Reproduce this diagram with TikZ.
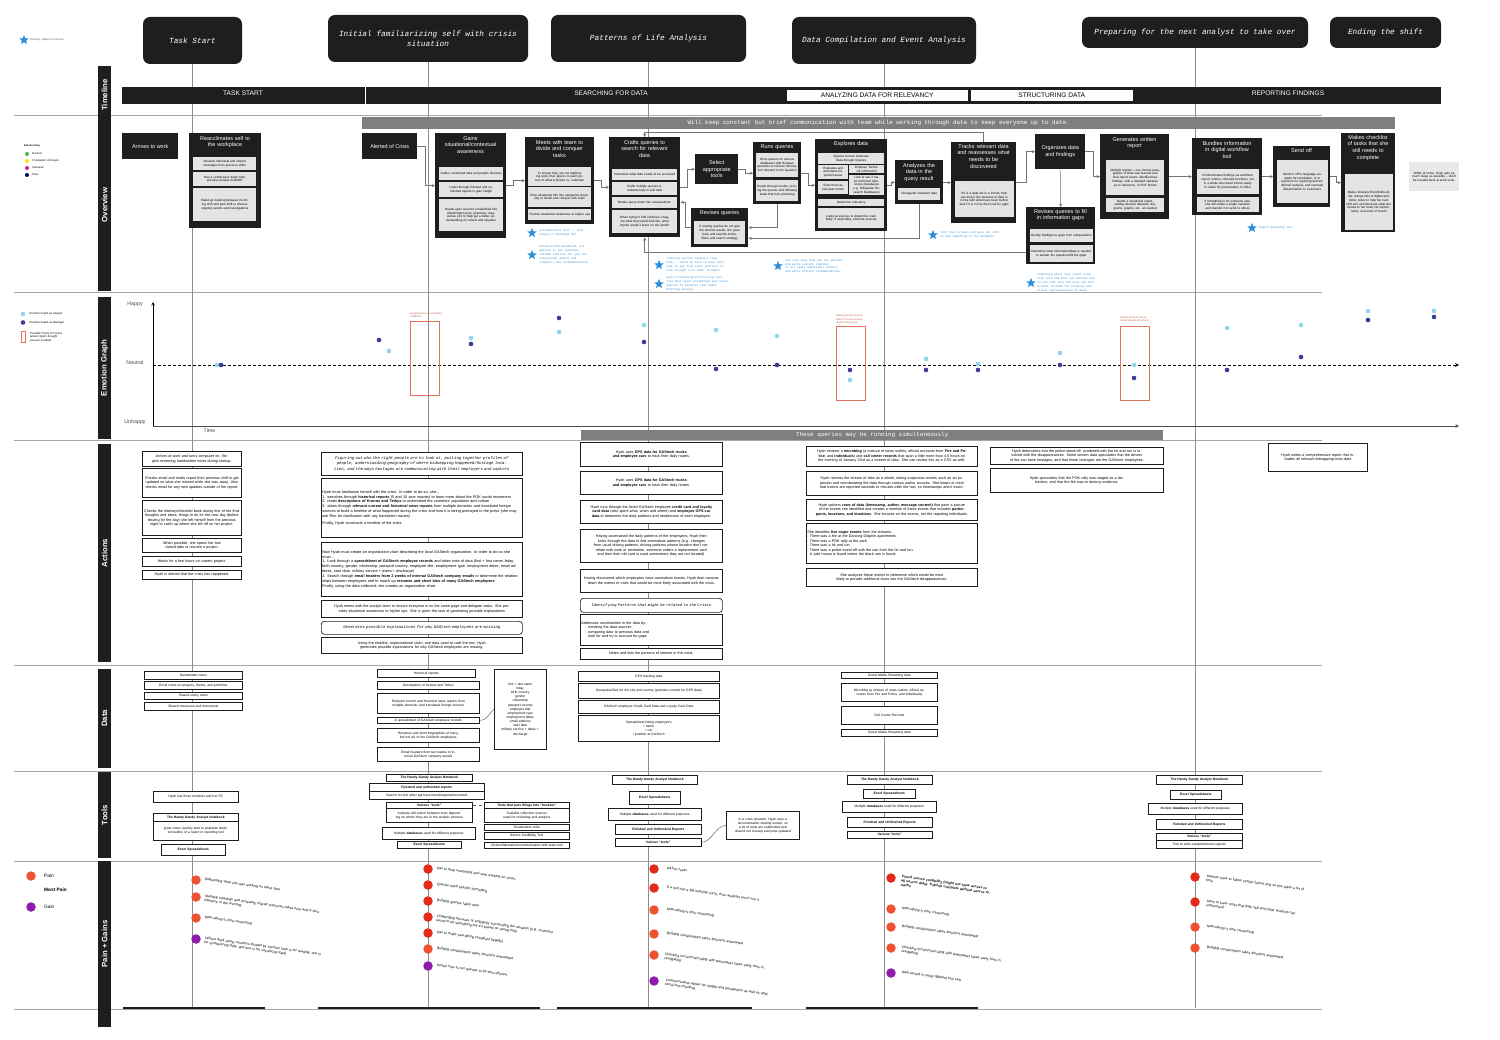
\documentclass[tikz,border=0pt]{standalone}
\usepackage{fontspec}
\setmainfont{Liberation Sans}
\newfontfamily\plexmono{Liberation Mono}
\usetikzlibrary{shapes.geometric,positioning}

\definecolor{ink}{HTML}{1E1E1E}
\definecolor{subgrey}{HTML}{E4E4E4}
\definecolor{barcolor}{HTML}{7F7F7F}
\definecolor{analyst}{HTML}{8ED6EA}
\definecolor{manager}{HTML}{3A3A98}
\definecolor{friction}{HTML}{E0735C}
\definecolor{oppblue}{HTML}{2B8EDB}
\definecolor{painred}{HTML}{E2291A}
\definecolor{painlight}{HTML}{EE5233}
\definecolor{gainpurple}{HTML}{8E1AAE}

\tikzset{
  phase/.style={fill=ink, rounded corners=7pt, text=white, align=center,
    font=\plexmono\itshape\fontsize{7.8}{10}\selectfont, inner sep=1pt},
  rowlabel/.style={fill=ink, text=white, rotate=90, inner sep=0pt,
    font=\bfseries\fontsize{7.8}{9}\selectfont},
  stagelabel/.style={inner sep=0pt, font=\fontsize{6.6}{7}\selectfont},
  obox/.style={fill=ink, text=white, align=center, inner sep=1pt, anchor=north west,
    font=\fontsize{5.5}{6.8}\selectfont},
  otitle/.style={text=white, align=center, inner sep=0pt, anchor=north,
    font=\fontsize{5.5}{6.8}\selectfont},
  osub/.style={fill=subgrey, align=center, inner sep=0.6pt, anchor=north west,
    font=\fontsize{3.1}{3.8}\selectfont},
  abox/.style={draw=ink, line width=0.7pt, fill=white, align=center,
    inner sep=1pt, anchor=north west, font=\fontsize{3.7}{4.5}\selectfont},
  dbox/.style={abox, line width=0.6pt, font=\fontsize{3.3}{4}\selectfont},
  monobox/.style={abox, font=\plexmono\itshape\fontsize{4}{5.2}\selectfont},
  flow/.style={->, draw=black!55, line width=0.5pt},
  lane/.style={draw=black!45, line width=0.6pt},
  sep/.style={draw=black!35, line width=0.5pt},
  opp/.style={star, star points=5, star point ratio=2.3, fill=oppblue,
    inner sep=0pt, minimum size=10pt},
  opptext/.style={text=oppblue, anchor=west, align=left, inner sep=0pt,
    font=\plexmono\fontsize{2.8}{3.9}\selectfont},
  ana/.style={circle, fill=analyst, inner sep=0pt, minimum size=4.6pt},
  man/.style={circle, fill=manager, inner sep=0pt, minimum size=4.6pt},
  fric/.style={draw=friction, line width=0.7pt, anchor=north west, inner sep=0pt},
  frictext/.style={text=friction!85!black, anchor=south west, align=left, inner sep=0pt,
    font=\fontsize{2.6}{3.2}\selectfont},
  pain/.style={circle, fill=painlight, inner sep=0pt, minimum size=9.5pt},
  mostpain/.style={pain, fill=painred},
  gain/.style={pain, fill=gainpurple},
  paintext/.style={anchor=north west, rotate=-8, align=left, inner sep=0pt,
    font=\fontsize{3.5}{4.2}\selectfont},
  legtext/.style={anchor=west, inner sep=0pt, font=\fontsize{2.8}{3.4}\selectfont},
}

\begin{document}
\begin{tikzpicture}[x=1pt,y=-1pt,>=stealth]
\useasboundingbox (0,0) rectangle (1500,1040);
\fill[white] (0,0) rectangle (1500,1040);

% -------------------------
% Row separators
% -------------------------
\foreach \y in {115,292,440,665,771,861,1009}
  \draw[sep] (14,\y) -- (1322,\y);

% -------------------------
% Phases
% -------------------------
\node[phase, minimum width=99pt, minimum height=47pt] (task) at (192.5,40.5) {Task Start};
\node[phase, minimum width=200pt, minimum height=47pt] (famil) at (428,38.5)
  {Initial familiarizing self with crisis\\situation};
\node[phase, minimum width=195pt, minimum height=47pt] (pattern) at (648.5,38.5) {Patterns of Life Analysis};
\node[phase, minimum width=184pt, minimum height=47pt] (compile) at (884,40.5) {Data Compilation and Event Analysis};
\node[phase, minimum width=226pt, minimum height=31pt] (prepare) at (1195,32.5) {Preparing for the next analyst to take over};
\node[phase, minimum width=111pt, minimum height=31pt] (ending) at (1385.5,32.5) {Ending the shift};

\coordinate (task-end) at (192.5,1008);
\coordinate (famil-end) at (428,1008);
\coordinate (pattern-end) at (648.5,1008);
\coordinate (compile-end) at (884,1008);
\coordinate (prepare-end) at (1195,1008);
\draw[lane] (task) -- (task-end);
\draw[lane] (famil) -- (famil-end);
\draw[lane] (pattern) -- (pattern-end);
\draw[lane] (compile) -- (compile-end);
\draw[lane] (prepare) -- (prepare-end);

% legend: design opportunities
\node[opp] (opp-key) at (24,40) {};
\node[opptext, text=black!70, right=3pt of opp-key] (opp-keytext) {Design Opportunities};

% -------------------------
% Row labels
% -------------------------
\fill[ink] (98,66) rectangle (111,291);
\node[rotate=90, text=white, inner sep=0pt, font=\bfseries\fontsize{7.8}{9}\selectfont] (lab-timeline) at (104.5,95) {Timeline};
\node[rotate=90, text=white, inner sep=0pt, font=\bfseries\fontsize{7.8}{9}\selectfont] (lab-overview) at (104.5,205) {Overview};
\node[rowlabel, minimum width=142pt, minimum height=13pt] (lab-emotion) at (104.5,368) {Emotion Graph};
\node[rowlabel, minimum width=218pt, minimum height=13pt] (lab-actions) at (104.5,553) {Actions};
\node[rowlabel, minimum width=99pt, minimum height=13pt] (lab-data) at (104.5,718.5) {Data};
\node[rowlabel, minimum width=86pt, minimum height=13pt] (lab-tools) at (104.5,815) {Tools};
\node[rowlabel, minimum width=166pt, minimum height=13pt] (lab-pain) at (104.5,944) {Pain + Gains};

% -------------------------
% Timeline
% -------------------------
\fill[ink] (122,87) rectangle (1441,104);
\draw[white, line width=0.8pt] (365.5,87) -- (365.5,104);
\node[stagelabel, text=white] (st-start) at (243,93) {TASK START};
\node[stagelabel, text=white] (st-search) at (611,93) {SEARCHING FOR DATA};
\node[stagelabel, fill=white, draw=ink, minimum width=182pt, minimum height=12pt, anchor=north west] (st-analyze) at (786,89.5) {ANALYZING DATA FOR RELEVANCY};
\node[stagelabel, fill=white, draw=ink, minimum width=163pt, minimum height=12pt, anchor=north west] (st-struct) at (970,89.5) {STRUCTURING DATA};
\node[stagelabel, text=white] (st-report) at (1288,93) {REPORTING FINDINGS};

% -------------------------
% Overview
% -------------------------
\node[fill=barcolor, text=white, anchor=north west, minimum width=1033pt, minimum height=12pt, inner sep=0pt,
  font=\plexmono\fontsize{5.9}{6}\selectfont] (commbar) at (362,117)
  {Will keep constant but brief communication with team while working through data to keep everyone up to date.};

% emotion key
\node[legtext, font=\bfseries\fontsize{2.6}{3}\selectfont] (key-title) at (24,146) {Emotion Key};
\node[circle, fill=green!60!black!70, inner sep=0pt, minimum size=4pt] (key-1) at (27,154) {};
\node[legtext, right=3pt of key-1] (key-1t) {Excited};
\node[circle, fill=yellow!85!orange, inner sep=0pt, minimum size=4pt] (key-2) at (27,161) {};
\node[legtext, right=3pt of key-2] (key-2t) {Frustrated / Annoyed};
\node[circle, fill=magenta!80!black, inner sep=0pt, minimum size=4pt] (key-3) at (27,168) {};
\node[legtext, right=3pt of key-3] (key-3t) {Stressed};
\node[circle, fill=blue!40!black, inner sep=0pt, minimum size=4pt] (key-4) at (27,175) {};
\node[legtext, right=3pt of key-4] (key-4t) {Flow};

\node[obox, minimum width=56pt, minimum height=26pt] (arrive) at (122,133) {Arrives to work};

\node[obox, minimum width=72pt, minimum height=95pt] (reacc) at (189,133) {};
\node[otitle, text width=70pt] (reacc-t) at (225,136) {Reacclimates self to\\the workplace};
\node[osub, text width=61.8pt, minimum height=13pt] (reacc-1) at (193,157) {Reviews individual and shared messages from previous shifts};
\node[osub, text width=61.8pt, minimum height=14pt] (reacc-2) at (193,172) {Has a verbal pass down from previous analyst AND/OR};
\node[osub, text width=61.8pt, minimum height=33pt] (reacc-3) at (193,188) {Stand-up meeting between incoming shift and past shift to discuss ongoing events and investigations};

\node[obox, minimum width=55pt, minimum height=26pt] (alert) at (362,133) {Alerted of Crisis};

\node[obox, minimum width=71pt, minimum height=105pt] (gains) at (435,133) {};
\node[otitle, text width=70pt] (gains-t) at (470.5,136) {Gains\\situational/contextual\\awareness};
\node[osub, text width=62.8pt, minimum height=13pt] (gains-1) at (439,167) {Gather contextual data and people directory};
\node[osub, text width=62.8pt, minimum height=15pt] (gains-2) at (439,182) {Looks through finished and unfinished reports to gain insight};
\node[osub, text width=62.8pt, minimum height=32pt] (gains-3) at (439,199) {Reads open sourced unclassified info (Washington post, pharmacy magazines etc) to help get a better understanding of context and situation};

\node[obox, minimum width=69pt, minimum height=87pt] (meets) at (525,137) {};
\node[otitle, text width=68pt] (meets-t) at (559.5,140) {Meets with team to\\divide and conquer\\tasks};
\node[osub, text width=61.8pt, minimum height=19pt] (meets-1) at (528,167) {To ensure they are not duplicating work, their goal is to paint picture of what is known vs. unknown};
\node[osub, text width=61.8pt, minimum height=20pt] (meets-2) at (528,187) {Drop situational info into categories (buckets) to divide and conquer with team};
\node[osub, text width=61.8pt, minimum height=11pt] (meets-3) at (528,209) {Provide situational awareness to higher ups};

\node[obox, minimum width=71pt, minimum height=100pt] (crafts) at (609,137) {};
\node[otitle, text width=70pt] (crafts-t) at (644.5,140) {Crafts queries to\\search for relevant\\data};
\node[osub, text width=63.8pt, minimum height=11pt] (crafts-1) at (612,169) {Determine what data needs to be accessed};
\node[osub, text width=63.8pt, minimum height=13pt] (crafts-2) at (612,182) {Crafts multiple queries simultaneously to pull data};
\node[osub, text width=63.8pt, minimum height=11pt] (crafts-3) at (612,197) {Breaks query down into subquestions.};
\node[osub, text width=63.8pt, minimum height=23pt] (crafts-4) at (612,210) {When trying to find evidence, imagine what that would look like, what imprint would it leave on the world?};

\node[obox, minimum width=43pt, minimum height=30pt] (select) at (695,154) {Select\\appropriate\\tools};

\node[obox, minimum width=57pt, minimum height=39pt] (revise) at (691,208) {};
\node[otitle, text width=56pt] (revise-t) at (719.5,210) {Revises queries};
\node[osub, text width=49.8pt, minimum height=23pt] (revise-1) at (694,221) {If running queries do not give the desired results, she goes back and reworks terms, filters and search strategy};

\node[obox, minimum width=48pt, minimum height=62pt] (runs) at (753,142) {};
\node[otitle, text width=47pt] (runs-t) at (777,144) {Runs queries};
\node[osub, text width=40.8pt, minimum height=24pt] (runs-1) at (756,153) {Runs queries on various databases with Boolean operators to retrieve information relevant to the question};
\node[osub, text width=40.8pt, minimum height=21pt] (runs-2) at (756,180) {Reads through results, revising the queries and following leads that look promising};

\node[obox, minimum width=72pt, minimum height=92pt] (explore) at (815,139) {};
\node[otitle, text width=70pt] (explore-t) at (851,141) {Explores data};
\node[osub, text width=64.8pt, minimum height=11pt] (explore-1) at (818,153) {Queries Across Unknown Data through Queries};
\node[osub, text width=28.8pt, minimum height=14pt] (explore-2) at (818,165) {Evaluates and articulates important areas};
\node[osub, text width=33.8pt, minimum height=8pt] (explore-3) at (849,165) {Explores Technical Information};
\node[osub, text width=28.8pt, minimum height=13pt] (explore-4) at (818,181) {Sorts them as fast past trends};
\node[osub, text width=33.8pt, minimum height=20pt] (explore-5) at (849,175) {Look to see if major technical references (databases e.g. Wikipedia/ Research Databases)};
\node[osub, text width=64.8pt, minimum height=7pt] (explore-6) at (818,199) {Determine relevancy};
\node[osub, text width=64.8pt, minimum height=20pt] (explore-7) at (818,208) {Looks at sources to determine credibility; if used data, cite/note sources};

\node[obox, minimum width=48pt, minimum height=44pt] (analyze) at (895,160) {};
\node[otitle, text width=47pt] (analyze-t) at (919,163) {Analyzes the\\data in the\\query result};
\node[osub, text width=40.8pt, minimum height=12pt] (analyze-1) at (898,188) {Disregards irrelevant data};

\node[obox, minimum width=65pt, minimum height=81pt] (track) at (951,142) {};
\node[otitle, text width=64pt] (track-t) at (983.5,144) {Tracks relevant data\\and reassesses what\\needs to be\\discovered};
\node[osub, text width=57.8pt, minimum height=36pt] (track-1) at (954.5,181) {If it is a data set in a format, then can look if the structure of data is in line with what have been before and if it is in line then look for gaps};

\node[obox, minimum width=50pt, minimum height=35pt] (organize) at (1035,134) {Organizes data\\and findings};

\node[obox, minimum width=69pt, minimum height=57pt] (revfill) at (1026,207) {};
\node[otitle, text width=68pt] (revfill-t) at (1060.5,209) {Revises queries to fill\\in information gaps};
\node[osub, text width=61.8pt, minimum height=13pt] (revfill-1) at (1029.5,229) {Identify intelligence gaps from subquestions};
\node[osub, text width=61.8pt, minimum height=17pt] (revfill-2) at (1029.5,245) {Determine what information/data is needed to answer the questions/fill the gaps};

\node[obox, minimum width=69pt, minimum height=85pt] (generate) at (1100,134) {};
\node[otitle, text width=68pt] (generate-t) at (1134.5,137) {Generates written\\report};
\node[osub, text width=56.8pt, minimum height=35pt] (generate-1) at (1106,160) {Multiple reports -- one format; paragraphs of what was learned and final report covers identified key findings, with a detailed narrative as to relevance, in PDF format};
\node[osub, text width=56.8pt, minimum height=14pt] (generate-2) at (1106,198) {Drafts a situational report, adding relevant datasets, diagrams, graphs, etc. as needed};

\node[obox, minimum width=70pt, minimum height=77pt] (bundle) at (1192,138) {};
\node[otitle, text width=69pt] (bundle-t) at (1227,141) {Bundles information\\in digital workflow\\tool};
\node[osub, text width=60.8pt, minimum height=25pt] (bundle-1) at (1196.5,169) {Communicates findings via workflow; report, written, checked functions; set in a whole structured format ready to share for presentation of office};
\node[osub, text width=60.8pt, minimum height=15pt] (bundle-2) at (1196.5,197) {If something is for someone else, she will create a single narrative and transfer it to send to others};

\node[obox, minimum width=57pt, minimum height=61pt] (sendoff) at (1273,146) {};
\node[otitle, text width=56pt] (sendoff-t) at (1301.5,148) {Send off};
\node[osub, text width=49.8pt, minimum height=43pt] (sendoff-1) at (1276.5,160) {Sends it off to language analysts for translation, or to reporters for reporting and additional analysis, and eventual dissemination to customers};

\node[obox, minimum width=54pt, minimum height=99pt] (checklist) at (1341,133) {};
\node[otitle, text width=53pt] (checklist-t) at (1368,135) {Makes checklist\\of tasks that she\\still needs to\\complete};
\node[osub, text width=46.8pt, minimum height=56pt] (checklist-1) at (1344.5,174) {Makes itinerary/checklist/to-do list; dumps lists of digital and sticky notes to help her next shift and communicate what she knows to her team via reports, notes, and word of mouth};

\node[osub, fill=subgrey!80, text width=48.8pt, minimum height=29pt] (home) at (1409,162) {While at home, Hyah gets as much sleep as possible -- she'll be needed back at work soon.};

% overview flow
\draw[flow] (alert.east) -- ++(8,0) |- (gains.west);
\draw[flow] (gains.east) -- ++(7,0) |- (meets.west);
\draw[flow] (meets.east) -- ++(7,0) |- (crafts.west);
\draw[flow] (crafts.east) -- ++(7,0) |- (select.west);
\draw[flow] (select.east) -- ++(7,0) |- (runs.west);
\draw[flow] (runs.south) |- (revise.east);
\draw[flow] (revise.west) -- ++(-6,0) |- ([yshift=-15pt]crafts.east);
\draw[flow] (runs.east) -- ++(7,0) |- (explore.west);
\draw[flow] (explore.east) -- ++(4,0) |- (analyze.west);
\draw[flow] (analyze.east) -- ++(4,0) |- (track.west);
\draw[flow] (track.east) -- ++(10,0) |- (organize.west);
\draw[flow] (organize.south) -- (revfill.north);
\draw[flow] (organize.east) -- ++(8,0) |- (generate.west);
\draw[flow] (generate.east) -- (bundle.west);
\draw[flow] (bundle.east) -- (sendoff.west);
\draw[flow] (sendoff.east) -- ++(6,0) |- (checklist.west);
\draw[flow] (track.north) -- ++(0,-10) -| (crafts.north);
\draw[flow] (analyze.south) |- ([yshift=-10.5pt]revise.east);
\draw[flow] ([yshift=-17pt]revfill.west) -| (crafts.south);

% design opportunities
\node[opp] (opp-1) at (532,233) {};
\node[opptext, right=4pt of opp-1] (opp-1t) {collaborative tool -- like\\Google or Exchange doc};
\node[opp] (opp-2) at (532,255) {};
\node[opptext, right=4pt of opp-2] (opp-2t) {Unclassified dashboard, all\\queries in one location,\\include timeline for you the\\situational events and\\requests, has recommendations};
\node[opp] (opp-3) at (659,265) {};
\node[opptext, right=4pt of opp-3] (opp-3t) {Tracking queries taking a long\\time -- would be nice to have info\\that to see from other analysts to\\have insight into their thoughts};
\node[opp] (opp-4) at (659,284) {};
\node[opptext, right=4pt of opp-4] (opp-4t) {Query formatting/structuring tool:\\Tool that saves predefined and recent\\queries to minimize time spent\\drafting queries};
\node[opp] (opp-5) at (778,266) {};
\node[opptext, right=4pt of opp-5] (opp-5t) {One-stop view that has all queries\\and works outside timeline\\to all avail additional context\\and works offline recommendations};
\node[opp] (opp-6) at (933,235) {};
\node[opptext, right=4pt of opp-6] (opp-6t) {Tool that screens and gets all info\\to add something to the database};
\node[opp] (opp-7) at (1031,283) {};
\node[opptext, right=3pt of opp-7] (opp-7t) {Something where they could track\\time info and then see offline how\\to see time info and know the info\\proved; include the findings and\\visual representation of data!};
\node[opp] (opp-8) at (1252,228) {};
\node[opptext, right=4pt of opp-8] (opp-8t) {Report Building Tool};

% -------------------------
% Emotion graph
% -------------------------
\node[ana] (leg-ana) at (23,314) {};
\node[legtext, right=4pt of leg-ana] (leg-anat) {Emotion Graph as Analyst};
\node[man] (leg-man) at (23,322.5) {};
\node[legtext, right=4pt of leg-man] (leg-mant) {Emotion Graph as Manager};
\node[fric, minimum width=4pt, minimum height=11pt] (leg-fric) at (21,331) {};
\node[legtext, align=left] (leg-frict) at (30,337) {Possible Points of Friction\\where Hyah's thought\\process is halted};

\coordinate (origin) at (153,426);
\coordinate (yend) at (153,302);
\coordinate (xend) at (1459,426);
\coordinate (nstart) at (153,365);
\coordinate (nend) at (1459,365);
\draw[->, line width=0.6pt] (origin) -- (yend);
\draw[->, line width=0.6pt, black!70] (origin) -- (xend);
\draw[->, line width=0.8pt, dash pattern=on 3pt off 2pt] (nstart) -- (nend);

\node[text=black!70, font=\fontsize{5.3}{6}\selectfont] (happy) at (135,304) {Happy};
\node[text=black!70, font=\fontsize{5.3}{6}\selectfont] (neutral) at (135,363) {Neutral};
\node[text=black!70, font=\fontsize{5.3}{6}\selectfont] (unhappy) at (135,422) {Unhappy};
\node[text=black!70, font=\fontsize{5.3}{6}\selectfont] (time) at (209.5,430.5) {Time};

\node[fric, minimum width=29pt, minimum height=74pt] (fric-1) at (410,321) {};
\node[frictext] (fric-1t) at (410,318) {Keeping track of everything\\is difficult};
\node[fric, minimum width=29pt, minimum height=74pt] (fric-2) at (836,326) {};
\node[frictext] (fric-2t) at (836,324) {Getting stuck in how to\\search across so many\\queries takes time};
\node[fric, minimum width=29pt, minimum height=74pt] (fric-3) at (1120,326) {};
\node[frictext] (fric-3t) at (1120,322) {Getting stuck in how to\\format reports for others};

\foreach \xa/\a/\xm/\m in {217/365/221/365, 389/351/379/340, 471/338/471/344,
    559/332/559/318, 644/325/644/342, 716/330/716/369, 777/336/777/365,
    850/380/850/370, 926/359/926/370, 978/364/978/370, 1060/353/1060/365,
    1134/365/1134/378, 1227/328/1227/370, 1301/325/1301/357,
    1368/311/1368/320, 1434/311/1434/317}{
  \node[ana] (ana-\xa) at (\xa,\a) {};
  \node[man] (man-\xm) at (\xm,\m) {};
}

% -------------------------
% Actions
% -------------------------
\node[fill=barcolor, text=white, anchor=north west, minimum width=582pt, minimum height=9.5pt, inner sep=0pt,
  font=\plexmono\fontsize{5.9}{6}\selectfont] (simbar) at (581,430) {These queries may be running simultaneously};

\node[abox, text width=97pt, minimum height=15pt] (a1-1) at (142,451) {Arrives at work and turns computer on. Begins reviewing handwritten notes during startup.};
\node[abox, text width=97pt, minimum height=29pt] (a1-2) at (142,468) {Checks email and reads report from previous shift to get updated on what she missed while she was away. Also checks email for any new updates outside of the report.};
\node[abox, text width=97pt, minimum height=35pt] (a1-3) at (142,500) {Checks the itinerary/checklist book during first of her final thoughts and ideas, things to do for the next day (before leaving for the day) she left herself from the previous night to catch up where she left off on her project.};
\node[abox, text width=97pt, minimum height=14pt] (a1-4) at (142,538) {When possible, she opens her last closed tabs to resume a project.};
\node[abox, text width=97pt, minimum height=10pt] (a1-5) at (142,556) {Works for a few hours on current project.};
\node[abox, text width=97pt, minimum height=9pt] (a1-6) at (142,570) {Hyah is alerted that the crisis has happened.};

\node[monobox, text width=199pt, minimum height=23pt] (a2-1) at (321,452) {Figuring out who the right people are to look at, putting together profiles of people, understanding geography of where kidnapping happened/hostage location, and the ways hostages are communicating with their employers and captors};
\node[abox, text width=199pt, minimum height=59pt, align=left, font=\fontsize{3.8}{4.9}\selectfont] (a2-2) at (321,478) {Hyah must familiarize herself with the crisis. In order to do so, she...\\
1. searches through \textbf{historical reports} (5 and 10 year reports) to learn more about the POK social movement\\
2. reads \textbf{descriptions of Kronos and Tethys} to understand the countries' population and culture\\
3. skims through \textbf{relevant current and historical news reports} from multiple domestic and translated foreign sources to build a timeline of what happened during the crisis and how it is being portrayed in the press (she may ask Ron for clarification with any translation issues)\\[2pt]
Finally, Hyah constructs a timeline of the crisis.};
\node[abox, text width=199pt, minimum height=54pt, align=left, font=\fontsize{3.8}{4.9}\selectfont] (a2-3) at (321,542) {Now Hyah must create an organization chart describing the local GAStech organization. In order to do so she must...\\
1. Look through a \textbf{spreadsheet of GAStech employee records} and takes note of data (first + last name, bday, birth country, gender, citizenship, passport country, employee title, employment type, employment dates, email address, start date, military service + dates + discharge)\\
2. Search through \textbf{email headers from 2 weeks of internal GAStech company emails} to determine the relationships between employees and to match up \textbf{resumes and short bios of many GAStech employees}\\
Finally, using the data collected, she creates an organization chart.};
\node[abox, text width=199pt, minimum height=17pt] (a2-4) at (321,600) {Hyah meets with the analyst team to ensure everyone is on the same page and delegate tasks. She provides situational awareness to higher ups. She is given the task of generating possible explanations};
\node[monobox, rounded corners=3pt, text width=199pt, minimum height=13pt] (a2-5) at (321,621) {Generates possible explanations for why GAStech employees are missing};
\node[abox, text width=199pt, minimum height=16pt] (a2-6) at (321,637) {Using the timeline, organizational chart, and data used to craft the two, Hyah generates possible explanations for why GAStech employees are missing.};

\node[abox, text width=140pt, minimum height=24pt] (a3-1) at (580,442) {Hyah uses \textbf{GPS data for GAStech trucks and employee cars} to track their daily routes.};
\node[abox, text width=140pt, minimum height=23pt] (a3-2) at (580,471) {Hyah uses \textbf{GPS data for GAStech trucks and employee cars} to track their daily routes.};
\node[abox, text width=140pt, minimum height=23pt] (a3-3) at (580,500) {Hyah runs through the listed GAStech employee \textbf{credit card and loyalty card data} (who spent what, when and where) and \textbf{employee GPS car data} to determine the daily patterns and rendezvous of each employee.};
\node[abox, text width=140pt, minimum height=33pt] (a3-4) at (580,529) {Having ascertained the daily patterns of the employees, Hyah then looks through the data to find anomalous patterns (e.g. changes from usual driving patterns, driving patterns whose location don't correlate with work or recreation, someone orders a replacement card and then their old card is used somewhere they are not located).};
\node[abox, text width=140pt, minimum height=23pt] (a3-5) at (580,569) {Having discovered which employees have anomalous events, Hyah then narrows down the events to ones that would be most likely associated with the crisis.};
\node[monobox, rounded corners=3pt, text width=140pt, minimum height=14pt, font=\plexmono\itshape\fontsize{3.8}{5}\selectfont] (a3-6) at (580,598) {Identifying Patterns that might be related to the Crisis};
\node[abox, text width=140pt, minimum height=31pt, align=left] (a3-7) at (580,614) {Addresses uncertainties in the data by:\\
\hspace*{4pt}- checking the data sources\\
\hspace*{4pt}- comparing data to previous data and\\
\hspace*{7pt}look for and try to account for gaps};
\node[abox, text width=140pt, minimum height=11pt] (a3-8) at (580,648) {Notes and lists the persons of interest in the crisis.};

\node[abox, text width=169pt, minimum height=20pt] (a4-1) at (806,446) {Hyah reviews a \textbf{microblog} (a mixture of news outlets, official accounts from \textbf{Fire and Police}, and \textbf{individuals}) and \textbf{call center records} that span a little more than 4.5 hours on the evening of January 23rd as a stream of data. She can review this as a CSV as well.};
\node[abox, text width=169pt, minimum height=24pt] (a4-2) at (806,471) {Hyah reviews the stream of data as a whole, noting suspicious events such as an explosion and corroborating the data through various author sources. She keeps in mind that events are reported seconds to minutes after the fact, so timestamps aren't exact.};
\node[abox, text width=169pt, minimum height=21pt] (a4-3) at (806,499) {Hyah gathers \textbf{rows of data (timestamp, author, message content)} that paint a picture of the events she identified and creates a timeline of these events that includes \textbf{participants, locations, and durations}. She focuses on the events, not the reporting individuals.};
\node[abox, text width=169pt, minimum height=40pt, align=left] (a4-4) at (806,523) {She identifies \textbf{five major events} from the streams.\\
- There was a fire at the Dancing Dolphin apartments.\\
- There was a POK rally at the park.\\
- There was a hit and run.\\
- There was a police stand-off with the van from the hit and run.\\
- A safe house is found where the black van is found.};
\node[abox, text width=169pt, minimum height=18pt] (a4-5) at (806,568) {She analyzes these events to determine which would be most likely to provide additional clues into the GAStech disappearances.};

\node[abox, text width=171pt, minimum height=17pt] (a5-1) at (990,447) {Hyah determines that the police stand-off, combined with the hit and run is involved with the disappearances. Some stream data speculates that the drivers of the van have hostages, and that these hostages are the GAStech employees.};
\node[abox, text width=171pt, minimum height=24pt] (a5-2) at (990,468) {Hyah speculates that the POK rally was staged as a distraction, and that the fire was to destroy evidence.};

\node[abox, text width=97pt, minimum height=28pt] (a6-1) at (1268,443) {Hyah writes a comprehensive report that includes all relevant kidnapping/crisis data};

% -------------------------
% Data
% -------------------------
\node[dbox, text width=96pt, minimum height=8pt] (d1-1) at (144,671) {Handwritten notes};
\node[dbox, text width=96pt, minimum height=8pt] (d1-2) at (144,681) {Excel notes on projects, clients, and portfolios};
\node[dbox, text width=96pt, minimum height=7pt] (d1-3) at (144,692) {Shared sticky notes};
\node[dbox, text width=96pt, minimum height=8pt] (d1-4) at (144,702) {Shared resources and documents};

\node[dbox, text width=96pt, minimum height=8pt] (d2-1) at (377,669) {Historical reports};
\node[dbox, text width=100pt, minimum height=8pt] (d2-2) at (377,681) {Descriptions of Kronos and Tethys};
\node[dbox, text width=100pt, minimum height=20pt] (d2-3) at (377,693) {Relevant current and historical news reports from multiple domestic and translated foreign sources};
\node[dbox, text width=100pt, minimum height=6pt] (d2-4) at (377,717) {A spreadsheet of GAStech employee records};
\node[dbox, text width=100pt, minimum height=14pt] (d2-5) at (377,728) {Resumes and short biographies of many, but not all, of the GAStech employees};
\node[dbox, text width=100pt, minimum height=14pt] (d2-6) at (377,747) {Email headers from two weeks of internal GAStech company emails};
\node[dbox, text width=50pt, minimum height=80pt, font=\fontsize{3.3}{4.15}\selectfont] (d2-side) at (494,669) {first + last name\\bday\\birth country\\gender\\citizenship\\passport country\\employee title\\employment type\\employment dates\\email address\\start date\\military service + dates +\\discharge};
\draw[black!70, line width=0.4pt] (d2-4.east) .. controls +(8,0) and +(-5,4) .. (d2-side.west);

\node[dbox, text width=139pt, minimum height=10pt] (d3-1) at (578,671) {GPS tracking data};
\node[dbox, text width=139pt, minimum height=15pt] (d3-2) at (578,683) {Geospatial files for the city and country (provides context for GPS data)};
\node[dbox, text width=139pt, minimum height=13pt] (d3-3) at (578,700) {GAStech employee Credit Card Data and Loyalty Card Data};
\node[dbox, text width=139pt, minimum height=26pt] (d3-4) at (578,715) {Spreadsheet listing employee's\\• name\\• car\\• position at GAStech};

\node[dbox, text width=94pt, minimum height=6pt] (d4-1) at (841,672) {Social Media Streaming data};
\node[dbox, text width=94pt, minimum height=18pt] (d4-2) at (841,683) {Microblog (a mixture of news outlets, official accounts from Fire and Police, and individuals)};
\node[dbox, text width=94pt, minimum height=18pt] (d4-3) at (841,706) {Cell Center Records};
\node[dbox, text width=94pt, minimum height=7pt] (d4-4) at (841,729) {Social Media Streaming data};

% -------------------------
% Tools
% -------------------------
\node[dbox, text width=83pt, minimum height=11pt] (t1-1) at (153,791) {Hyah has three monitors and her PC};
\node[dbox, text width=83pt, minimum height=8pt, font=\bfseries\fontsize{3.3}{4}\selectfont] (t1-2) at (153,813) {The Handy Dandy Analyst Notebook};
\node[dbox, text width=83pt, minimum height=19pt] (t1-3) at (153,821) {great notes; quickly start to populate skeleton/outline of a report in reporting tool};
\node[dbox, text width=62pt, minimum height=11pt, font=\bfseries\fontsize{3.3}{4}\selectfont] (t1-4) at (161,844) {Excel Spreadsheets};

\node[dbox, text width=84pt, minimum height=7pt, font=\bfseries\fontsize{3.3}{4}\selectfont] (t2-1) at (386,774) {The Handy Dandy Analyst Notebook};
\node[dbox, text width=113pt, minimum height=8pt, font=\bfseries\fontsize{3.3}{4}\selectfont] (t2-2) at (369,783) {Finished and unfinished reports};
\node[dbox, text width=113pt, minimum height=8pt] (t2-3) at (369,791) {Search for info other ppl have found/reported/recorded};
\node[dbox, text width=84pt, minimum height=6pt, font=\bfseries\fontsize{3.3}{4}\selectfont] (t2-4) at (386,802) {Various ``tools''};
\node[dbox, text width=84pt, minimum height=14pt] (t2-5) at (386,808) {Analysts will switch between tools depending on where they are in the analytic process};
\node[dbox, text width=91pt, minimum height=12pt] (t2-6) at (382,827) {Multiple \textbf{databases} used for different purposes};
\node[dbox, text width=62pt, minimum height=7pt, font=\bfseries\fontsize{3.3}{4}\selectfont] (t2-7) at (397,841) {Excel Spreadsheets};

\node[dbox, text width=83pt, minimum height=6pt, font=\bfseries\fontsize{3.3}{4}\selectfont] (t2b-1) at (484,802) {Tools that puts things into ``buckets''};
\node[dbox, text width=83pt, minimum height=14pt] (t2b-2) at (484,808) {Scalable collection sources used for reviewing and analysis};
\node[dbox, text width=83pt, minimum height=6pt] (t2b-3) at (484,824) {Visualization tools};
\node[dbox, text width=83pt, minimum height=7pt] (t2b-4) at (484,832) {Source Credibility Tool};
\node[dbox, text width=83pt, minimum height=6pt] (t2b-5) at (484,842) {Chat/collaboration/communication with team tool};
\draw[black!60, line width=0.4pt, dashed] (t2-4.east) -- (t2b-1.west);

\node[dbox, text width=83pt, minimum height=9pt, font=\bfseries\fontsize{3.3}{4}\selectfont] (t3-1) at (612,775) {The Handy Dandy Analyst Notebook};
\node[dbox, text width=49pt, minimum height=13pt, font=\bfseries\fontsize{3.3}{4}\selectfont] (t3-2) at (629,791) {Excel Spreadsheets};
\node[dbox, text width=91pt, minimum height=12pt] (t3-3) at (608,808) {Multiple \textbf{databases} used for different purposes};
\node[dbox, text width=84pt, minimum height=10pt, font=\bfseries\fontsize{3.3}{4}\selectfont] (t3-4) at (615,824) {Finished and Unfinished Reports};
\node[dbox, text width=84pt, minimum height=8pt, font=\bfseries\fontsize{3.3}{4}\selectfont] (t3-5) at (615,838) {Various ``tools''};
\node[dbox, text width=71pt, minimum height=28pt] (t3-note) at (726,811) {In a crisis situation, Hyah uses a documentation sharing toolset, so a lot of tools are subdivided and shared out to keep everyone updated};
\draw[black!70, line width=0.4pt] (t3-5.east) .. controls +(10,0) and +(-10,0) .. (t3-note.west);

\node[dbox, text width=83pt, minimum height=9pt, font=\bfseries\fontsize{3.3}{4}\selectfont] (t4-1) at (847,775) {The Handy Dandy Analyst Notebook};
\node[dbox, text width=50pt, minimum height=9pt, font=\bfseries\fontsize{3.3}{4}\selectfont] (t4-2) at (863,789) {Excel Spreadsheets};
\node[dbox, text width=92pt, minimum height=11pt] (t4-3) at (842,801) {Multiple \textbf{databases} used for different purposes};
\node[dbox, text width=83pt, minimum height=10pt, font=\bfseries\fontsize{3.3}{4}\selectfont] (t4-4) at (847,817) {Finished and Unfinished Reports};
\node[dbox, text width=83pt, minimum height=7pt, font=\bfseries\fontsize{3.3}{4}\selectfont] (t4-5) at (847,831) {Various ``tools''};

\node[dbox, text width=84pt, minimum height=9pt, font=\bfseries\fontsize{3.3}{4}\selectfont] (t5-1) at (1156,775) {The Handy Dandy Analyst Notebook};
\node[dbox, text width=49pt, minimum height=9pt, font=\bfseries\fontsize{3.3}{4}\selectfont] (t5-2) at (1170,790) {Excel Spreadsheets};
\node[dbox, text width=92pt, minimum height=11pt] (t5-3) at (1148,803) {Multiple \textbf{databases} used for different purposes};
\node[dbox, text width=84pt, minimum height=10pt, font=\bfseries\fontsize{3.3}{4}\selectfont] (t5-4) at (1156,819) {Finished and Unfinished Reports};
\node[dbox, text width=84pt, minimum height=7pt, font=\bfseries\fontsize{3.3}{4}\selectfont] (t5-5) at (1156,833) {Various ``tools''};
\node[dbox, text width=84pt, minimum height=8pt] (t5-6) at (1156,840) {Tool to write comprehensive reports};

% -------------------------
% Pain + Gains
% -------------------------
\node[pain] (leg-pain) at (31,876) {};
\node[anchor=west, inner sep=0pt, font=\fontsize{4.8}{5}\selectfont] (leg-paint) at (44,876) {Pain};
\node[anchor=west, inner sep=0pt, font=\bfseries\fontsize{4.8}{5}\selectfont] (leg-most) at (44,890) {Most Pain};
\node[gain] (leg-gain) at (31,907) {};
\node[anchor=west, inner sep=0pt, font=\fontsize{4.8}{5}\selectfont] (leg-gaint) at (44,907) {Gain};

\node[pain] (pg1-1) at (196,880) {};
\node[paintext, text width=110pt] (pg1-1t) at (205,877.5) {Requesting what she was working on takes time};
\node[pain] (pg1-2) at (196,897) {};
\node[paintext, text width=118pt] (pg1-2t) at (205,894.5) {Standup meetings and reviewing shared resources takes time and is time intensive in the morning};
\node[pain] (pg1-3) at (196,918) {};
\node[paintext, text width=110pt] (pg1-3t) at (205,915.5) {Note-taking is time-consuming};
\node[gain] (pg1-4) at (196,939) {};
\node[paintext, text width=118pt] (pg1-4t) at (205,936.5) {Utilizes desk setup; monitors divided by function (one is for reading, one is for synthesizing data, and one is for visualizing data)};

\node[mostpain] (pg2-1) at (428,869) {};
\node[paintext, text width=110pt] (pg2-1t) at (437,866.5) {Has to drop everything and start working on crises};
\node[mostpain] (pg2-2) at (428,885) {};
\node[paintext, text width=110pt] (pg2-2t) at (437,882.5) {Queries need specific formatting};
\node[mostpain] (pg2-3) at (428,901) {};
\node[paintext, text width=110pt] (pg2-3t) at (437,898.5) {Building queries takes time};
\node[mostpain] (pg2-4) at (428,917) {};
\node[paintext, text width=118pt] (pg2-4t) at (437,914.5) {Challenging because of ambiguity surrounding the situation (e.g. customer wants to do something but it's based on wrong info)};
\node[mostpain] (pg2-5) at (428,933) {};
\node[paintext, text width=110pt] (pg2-5t) at (437,930.5) {Has to make everything compliant (legally)};
\node[pain] (pg2-6) at (428,949) {};
\node[paintext, text width=112pt] (pg2-6t) at (437,946.5) {Building visualizations takes time/isn't automated};
\node[gain] (pg2-7) at (428,966) {};
\node[paintext, text width=112pt] (pg2-7t) at (437,963.5) {Knows how to run queries to be time efficient};

\node[mostpain] (pg3-1) at (654,869) {};
\node[paintext, text width=110pt] (pg3-1t) at (667,866.5) {Ad-hoc tasks};
\node[mostpain] (pg3-2) at (654,888) {};
\node[paintext, text width=125pt] (pg3-2t) at (667,885.5) {If a tool has a big learning curve, then analysts won't use it};
\node[pain] (pg3-3) at (654,910) {};
\node[paintext, text width=110pt] (pg3-3t) at (667,907.5) {Note-taking is time consuming};
\node[pain] (pg3-4) at (654,934) {};
\node[paintext, text width=112pt] (pg3-4t) at (667,931.5) {Building visualizations takes time/isn't automated};
\node[pain] (pg3-5) at (654,955) {};
\node[paintext, text width=104pt] (pg3-5t) at (665,952.5) {Checking in/communicating with teammates takes away from investigating};
\node[gain] (pg3-6) at (654,981) {};
\node[paintext, text width=104pt] (pg3-6t) at (666,978.5) {Communication allows for insight and perspective as well as additional fact-checking};

\node[mostpain] (pg4-1) at (891,878) {};
\node[paintext, text width=92pt, font=\bfseries\fontsize{3.5}{4.2}\selectfont] (pg4-1t) at (902,875) {Check source credibility (might not have access to all source data). Publish complete without source remarks};
\node[pain] (pg4-2) at (891,909) {};
\node[paintext, text width=110pt] (pg4-2t) at (902,906.5) {Note-taking is time consuming};
\node[pain] (pg4-3) at (891,927) {};
\node[paintext, text width=112pt] (pg4-3t) at (902,924.5) {Building visualizations takes time/isn't automated};
\node[pain] (pg4-4) at (891,948) {};
\node[paintext, text width=104pt] (pg4-4t) at (902,945.5) {Checking in/communicating with teammates takes away from investigating};
\node[gain] (pg4-5) at (891,973) {};
\node[paintext, text width=110pt] (pg4-5t) at (902,970.5) {Well versed in using different tool sets};

\node[mostpain] (pg5-1) at (1195,877) {};
\node[paintext, text width=100pt] (pg5-1t) at (1207,874.5) {Reports have to follow certain format and so this takes a lot of time.};
\node[mostpain] (pg5-2) at (1195,902) {};
\node[paintext, text width=94pt] (pg5-2t) at (1207,899.5) {Have to have notes that both self and other analysts can understand.};
\node[pain] (pg5-3) at (1195,927) {};
\node[paintext, text width=110pt] (pg5-3t) at (1207,924.5) {Note-taking is time consuming};
\node[pain] (pg5-4) at (1195,948) {};
\node[paintext, text width=112pt] (pg5-4t) at (1207,945.5) {Building visualizations takes time/isn't automated};

% bottom rule
\draw[ink, line width=1.6pt] (123,1008) -- (265,1008);
\draw[ink, line width=1.6pt] (318,1008) -- (540,1008);
\draw[ink, line width=1.6pt] (557,1008) -- (752,1008);
\draw[ink, line width=1.6pt] (806,1008) -- (978,1008);

\end{tikzpicture}
\end{document}
